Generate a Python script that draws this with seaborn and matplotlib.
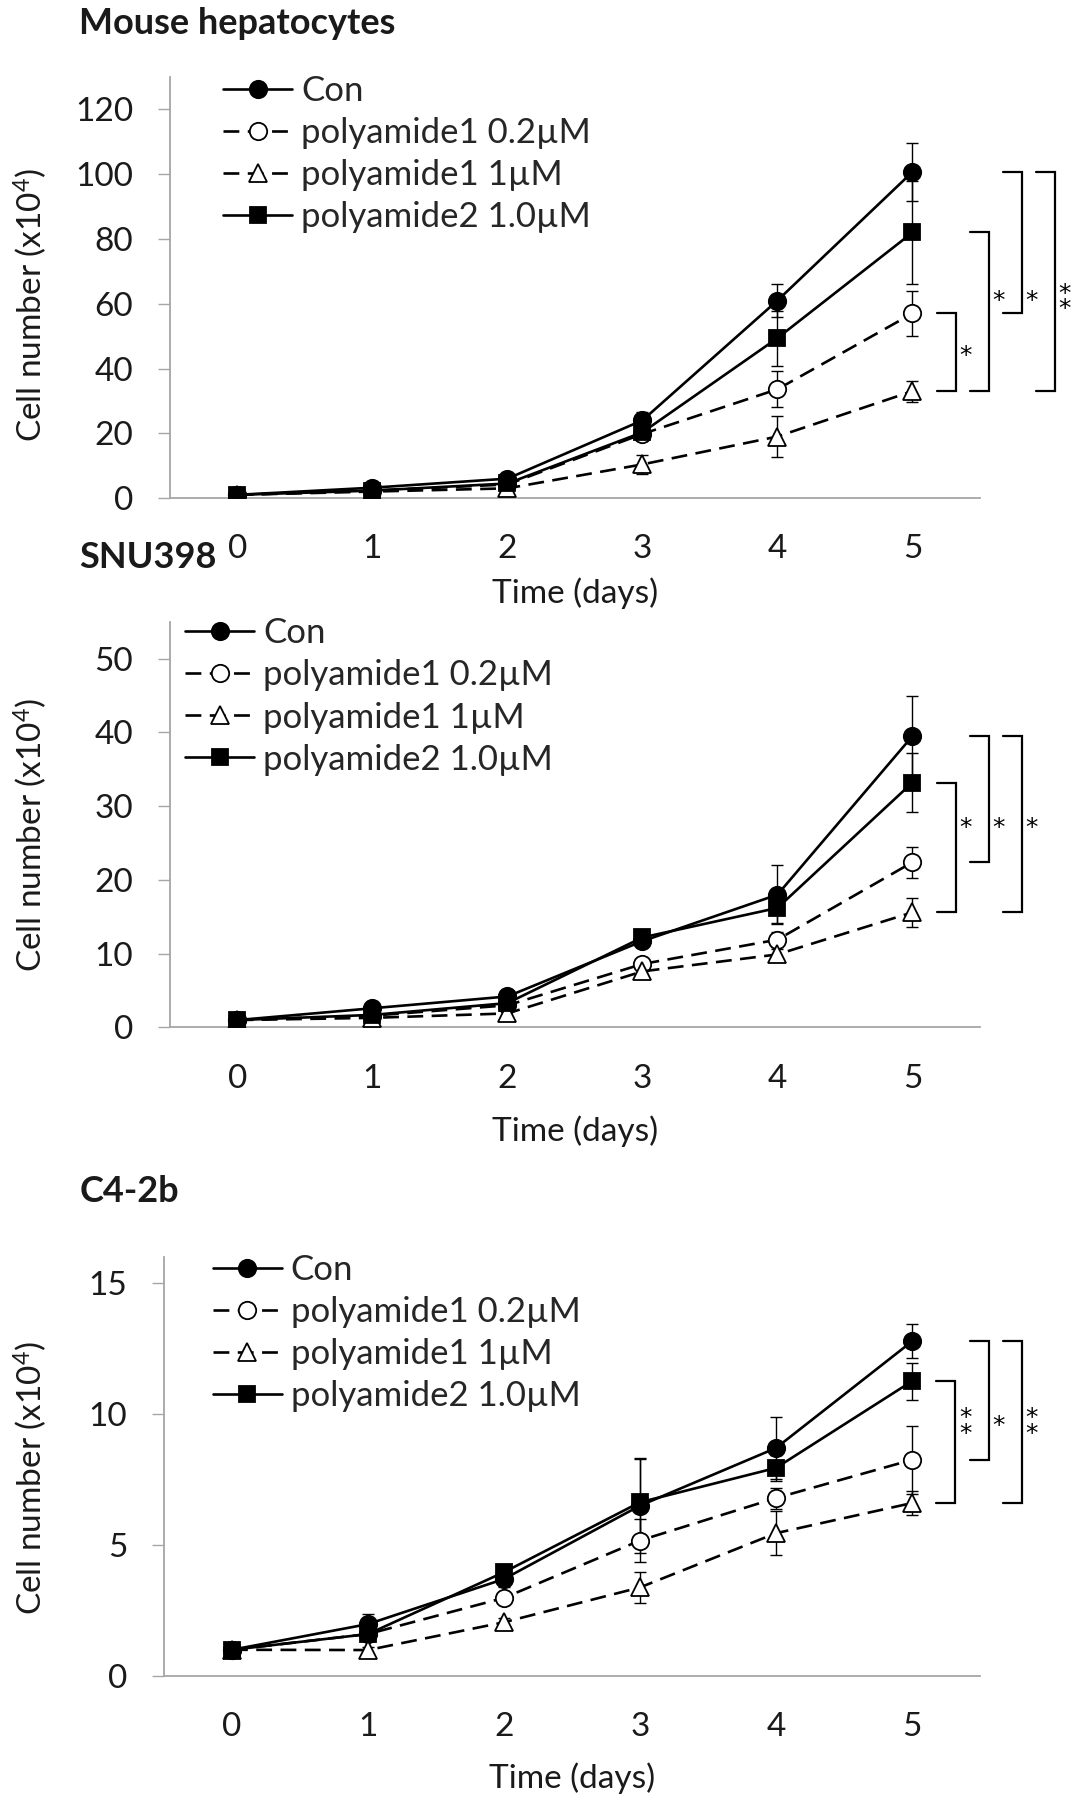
"""Cell growth curves for three cell lines treated with polyamides."""

import matplotlib

matplotlib.use("Agg")
import matplotlib.pyplot as plt
import pandas as pd
import seaborn as sns

sns.set_style("ticks")
plt.rcParams["font.family"] = ["Lato", "DejaVu Sans"]
plt.rcParams["mathtext.fontset"] = "custom"
plt.rcParams["mathtext.rm"] = "Lato"
plt.rcParams["mathtext.it"] = "Lato:italic"
plt.rcParams["mathtext.bf"] = "Lato:bold"

days = [0, 1, 2, 3, 4, 5]
series_names = ["Con", "polyamide1 0.2µM", "polyamide1 1µM", "polyamide2 1.0µM"]

# Mouse hepatocytes
mh_con = [1.0, 3.2, 6.0, 24.0, 61.0, 100.7]
mh_con_err = [0.3, 0.5, 0.8, 2.7, 5.0, 9.0]
mh_p1_low = [1.0, 2.3, 4.2, 19.8, 33.6, 57.0]
mh_p1_low_err = [0.3, 0.4, 0.6, 2.0, 5.6, 7.0]
mh_p1_high = [1.0, 2.0, 3.0, 10.4, 19.0, 33.0]
mh_p1_high_err = [0.3, 0.4, 0.6, 3.0, 6.3, 3.2]
mh_p2 = [1.0, 2.3, 4.5, 20.3, 49.4, 82.0]
mh_p2_err = [0.3, 0.4, 0.6, 2.0, 8.5, 16.0]

# SNU398
snu_con = [1.0, 2.6, 4.2, 11.7, 18.0, 39.5]
snu_con_err = [0.2, 0.3, 0.4, 0.8, 4.0, 5.4]
snu_p1_low = [1.0, 1.6, 3.0, 8.6, 11.9, 22.4]
snu_p1_low_err = [0.2, 0.2, 0.3, 0.6, 1.0, 2.1]
snu_p1_high = [1.0, 1.3, 1.9, 7.6, 9.9, 15.6]
snu_p1_high_err = [0.2, 0.2, 0.3, 0.5, 0.8, 2.0]
snu_p2 = [1.0, 1.7, 3.3, 12.2, 16.2, 33.2]
snu_p2_err = [0.2, 0.2, 0.3, 0.8, 2.0, 4.0]

# C4-2b
c4_con = [1.0, 1.98, 3.7, 6.5, 8.7, 12.77]
c4_con_err = [0.05, 0.4, 0.3, 1.8, 1.2, 0.65]
c4_p1_low = [1.0, 1.6, 2.98, 5.17, 6.79, 8.25]
c4_p1_low_err = [0.05, 0.2, 0.2, 0.83, 0.4, 1.3]
c4_p1_high = [1.0, 0.99, 2.05, 3.38, 5.45, 6.6]
c4_p1_high_err = [0.05, 0.1, 0.15, 0.6, 0.85, 0.45]
c4_p2 = [1.0, 1.6, 3.96, 6.63, 7.94, 11.25]
c4_p2_err = [0.05, 0.2, 0.2, 1.7, 0.5, 0.7]

# significance brackets at day 5: (upper series, lower series, stars)
mh_sig = [
    ("polyamide1 0.2µM", "polyamide1 1µM", "*"),
    ("polyamide2 1.0µM", "polyamide1 1µM", "*"),
    ("Con", "polyamide1 0.2µM", "*"),
    ("Con", "polyamide1 1µM", "**"),
]
snu_sig = [
    ("polyamide2 1.0µM", "polyamide1 1µM", "*"),
    ("Con", "polyamide1 0.2µM", "*"),
    ("Con", "polyamide1 1µM", "*"),
]
c4_sig = [
    ("polyamide2 1.0µM", "polyamide1 1µM", "**"),
    ("Con", "polyamide1 0.2µM", "*"),
    ("Con", "polyamide1 1µM", "**"),
]

DASH = (0, (6, 3.2))
STYLES = {
    "Con": dict(marker="o", mfc="black", ls="-", ms=12.5),
    "polyamide1 0.2µM": dict(marker="o", mfc="white", ls=DASH, ms=12.5),
    "polyamide1 1µM": dict(marker="^", mfc="white", ls=DASH, ms=12.5),
    "polyamide2 1.0µM": dict(marker="s", mfc="black", ls="-", ms=11.5),
}
AXIS_GREY = "#a6a6a6"
TEXT_COL = "#1a1a1a"


def draw_brackets(ax, values, sig):
    """Square brackets with stars to the right of the day-5 points."""
    day5 = {name: vals[-1] for name, vals in zip(series_names, values)}
    spans = [(day5[upper], day5[lower]) for upper, lower, _ in sig]
    common_y = sum((a + b) / 2 for a, b in spans) / len(spans)
    for i, ((ya, yb), (_, _, stars)) in enumerate(zip(spans, sig)):
        x0 = 5.18 + i * 0.245
        x1 = x0 + 0.14
        ax.plot([x0, x1, x1, x0], [ya, ya, yb, yb], color="black",
                lw=1.6, clip_on=False, solid_joinstyle="miter")
        star_y = common_y if min(ya, yb) < common_y < max(ya, yb) else (ya + yb) / 2
        ax.annotate("\n".join(stars), xy=(x1 + 0.07, star_y),
                    xytext=(0, -3), textcoords="offset points",
                    fontsize=18, family="DejaVu Sans", ha="center", va="center",
                    linespacing=0.55, color="black", annotation_clip=False)


def draw_panel(ax, values, errors, ylim, yticks, sig, legend_xy, xlabel_y, ylabel_xy):
    for name, vals, errs in zip(series_names, values, errors):
        st = STYLES[name]
        ax.errorbar(days, vals, yerr=errs, fmt="none", ecolor="black",
                    elinewidth=1.0, capsize=4.2, capthick=1.0, zorder=2)
        df = pd.DataFrame({"day": days, "value": vals})
        sns.lineplot(data=df, x="day", y="value", ax=ax, color="black",
                     linewidth=1.9, linestyle=st["ls"], marker=st["marker"],
                     markersize=st["ms"], markerfacecolor=st["mfc"],
                     markeredgecolor="black", markeredgewidth=1.3,
                     errorbar=None, label=name, legend=False, zorder=3)

    ax.set_xlim(-0.5, 5.5)
    ax.set_ylim(*ylim)
    ax.set_xticks(days)
    ax.set_yticks(yticks)
    sns.despine(ax=ax)
    for side in ("left", "bottom"):
        ax.spines[side].set_color(AXIS_GREY)
        ax.spines[side].set_linewidth(1.3)
    ax.tick_params(axis="y", length=8.6, width=1.0, color=AXIS_GREY, pad=18,
                   labelsize=24, labelcolor=TEXT_COL)
    ax.tick_params(axis="x", length=0, pad=26, labelsize=24, labelcolor=TEXT_COL)

    ax.set_xlabel("Time (days)", fontsize=24, color=TEXT_COL, va="center")
    ax.xaxis.set_label_coords(0.5, xlabel_y)
    ax.set_ylabel("Cell number (x10$^{4}$)", fontsize=24, color=TEXT_COL, va="center")
    ax.yaxis.set_label_coords(*ylabel_xy)

    ax.legend(loc="upper left", bbox_to_anchor=legend_xy, frameon=False,
              fontsize=25, handlelength=2.0, handletextpad=0.25,
              labelspacing=0.29, borderpad=0, borderaxespad=0)

    draw_brackets(ax, values, sig)


fig = plt.figure(figsize=(10.71, 18), dpi=100)
ax_top = fig.add_axes([0.1587, 0.7233, 0.7563, 0.2339])
ax_mid = fig.add_axes([0.1587, 0.4292, 0.7563, 0.2254])
ax_bot = fig.add_axes([0.1531, 0.0689, 0.7619, 0.2329])

draw_panel(ax_top,
           [mh_con, mh_p1_low, mh_p1_high, mh_p2],
           [mh_con_err, mh_p1_low_err, mh_p1_high_err, mh_p2_err],
           (0, 130), range(0, 121, 20), mh_sig,
           (0.0654, 1.0045), -0.2257, (-0.1728, 0.4594))
draw_panel(ax_mid,
           [snu_con, snu_p1_low, snu_p1_high, snu_p2],
           [snu_con_err, snu_p1_low_err, snu_p1_high_err, snu_p2_err],
           (0, 55), range(0, 51, 10), snu_sig,
           (0.0185, 1.0106), -0.255, (-0.1728, 0.474))
draw_panel(ax_bot,
           [c4_con, c4_p1_low, c4_p1_high, c4_p2],
           [c4_con_err, c4_p1_low_err, c4_p1_high_err, c4_p2_err],
           (0, 16), range(0, 16, 5), c4_sig,
           (0.0597, 1.0064), -0.2433, (-0.1642, 0.472))

for y, title in [(0.9872, "Mouse hepatocytes"), (0.690, "SNU398"), (0.3379, "C4-2b")]:
    fig.text(0.074, y, title, fontsize=26, fontweight="bold",
             ha="left", va="center", color=TEXT_COL)

fig.savefig("out.png", dpi=100)
plt.close(fig)
